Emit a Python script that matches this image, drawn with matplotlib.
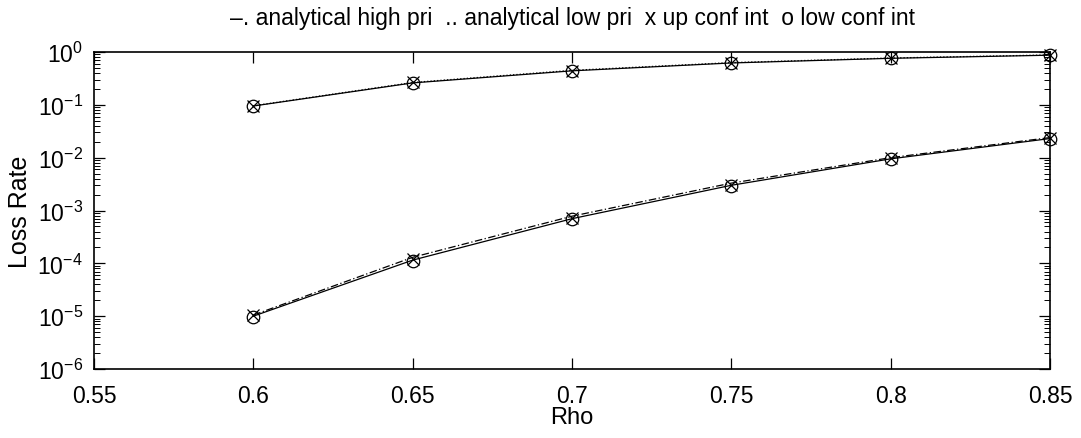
import numpy as np
import matplotlib
matplotlib.use('Agg')
import matplotlib.pyplot as plt
from matplotlib.ticker import LogLocator, FixedLocator

plt.rcParams['font.family'] = ['Liberation Sans', 'DejaVu Sans']
plt.rcParams['mathtext.fontset'] = 'custom'
plt.rcParams['mathtext.rm'] = 'Liberation Sans'
plt.rcParams['mathtext.it'] = 'Liberation Sans'

# rho values
rho = [0.6, 0.65, 0.7, 0.75, 0.8, 0.85]

# simulated loss rates (solid lines)
sim_low = [0.095, 0.26, 0.44, 0.62, 0.76, 0.87]
sim_high = [1.0e-5, 1.15e-4, 7.0e-4, 3.0e-3, 9.5e-3, 2.3e-2]

# analytical curves
ana_low = [0.096, 0.265, 0.45, 0.63, 0.77, 0.88]
ana_high = [1.05e-5, 1.3e-4, 7.8e-4, 3.3e-3, 1.0e-2, 2.4e-2]

# confidence interval bounds
up_low = [0.097, 0.265, 0.445, 0.625, 0.765, 0.875]
lo_low = [0.093, 0.255, 0.435, 0.615, 0.755, 0.865]
up_high = [1.05e-5, 1.2e-4, 7.2e-4, 3.1e-3, 9.7e-3, 2.35e-2]
lo_high = [0.95e-5, 1.1e-4, 6.8e-4, 2.9e-3, 9.3e-3, 2.25e-2]

xticks = [0.55, 0.6, 0.65, 0.7, 0.75, 0.8, 0.85]
xticklabels = ['0.55', '0.6', '0.65', '0.7', '0.75', '0.8', '0.85']

fig = plt.figure(figsize=(10.81, 4.39), dpi=100)
ax = fig.add_axes([94/1081, 1 - 370/439, (1050-94)/1081, (370-53)/439])

ax.semilogy(rho, sim_low, '-', color='k', lw=0.9)
ax.semilogy(rho, sim_high, '-', color='k', lw=0.9)
ax.semilogy(rho, ana_low, ':', color='k', lw=0.9)
ax.semilogy(rho, ana_high, '-.', color='k', lw=0.9, dashes=(6, 2, 1, 2))
# markers are not clipped at the axes edge
ax.semilogy(rho, up_low, 'x', color='k', ms=9, mew=0.9, clip_on=False)
ax.semilogy(rho, up_high, 'x', color='k', ms=9, mew=0.9, clip_on=False)
ax.semilogy(rho, lo_low, 'o', mfc='none', mec='k', ms=9, mew=0.9, clip_on=False)
ax.semilogy(rho, lo_high, 'o', mfc='none', mec='k', ms=9, mew=0.9, clip_on=False)

ax.set_xlim(0.55, 0.85)
ax.set_ylim(1e-6, 1)
ax.xaxis.set_major_locator(FixedLocator(xticks))
ax.set_xticklabels(xticklabels)
ax.yaxis.set_major_locator(LogLocator(base=10, numticks=10))
ax.yaxis.set_minor_locator(LogLocator(base=10, subs=np.arange(2, 10), numticks=20))

ax.tick_params(which='both', direction='in', top=True, right=True, labelsize=16.5, color='k')
ax.tick_params(axis='x', which='major', pad=11)
ax.tick_params(axis='y', which='major', pad=8)
ax.tick_params(which='major', length=8, width=0.9)
ax.tick_params(which='minor', length=4, width=0.7)
for s in ax.spines.values():
    s.set_linewidth(1.2)

ax.set_xlabel('Rho', fontsize=17, labelpad=-1)
ax.set_ylabel('Loss Rate', fontsize=18, labelpad=4)
ax.set_title('\u2013. analytical high pri  .. analytical low pri  x up conf int  o low conf int',
             fontsize=16.5, pad=20)

fig.savefig('out.png', dpi=100)
